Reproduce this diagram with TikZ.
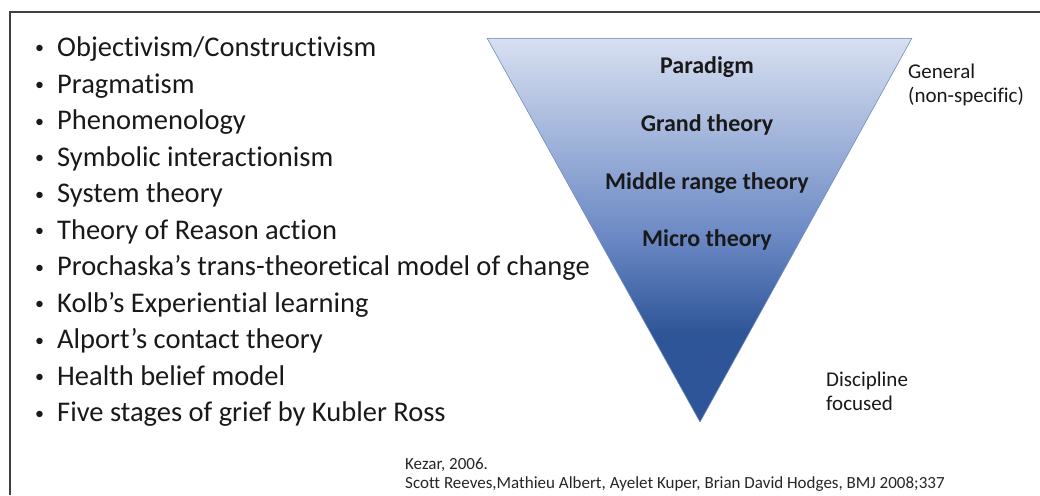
\documentclass[tikz,border=0pt]{standalone}
\usepackage{fontspec}
\setmainfont{Carlito}[Ligatures=NoCommon]
\definecolor{frame}{HTML}{404040}
\definecolor{topblue}{HTML}{D8E0F1}
\definecolor{midblue}{HTML}{6A88C4}
\definecolor{bottomblue}{HTML}{2E5597}
\definecolor{edgeblue}{HTML}{8FA6CF}
\pgfdeclareverticalshading{funnel}{100bp}{%
  color(0bp)=(bottomblue); color(36.5bp)=(bottomblue);
  color(49bp)=(midblue); color(75bp)=(topblue); color(100bp)=(topblue)}
\begin{document}
\begin{tikzpicture}[x=1pt,y=-1pt,
  item/.style={anchor=base west,inner sep=0pt,font=\fontsize{28.5}{32}\selectfont,text=black!90},
  level/.style={inner sep=0pt,font=\bfseries\fontsize{24}{28}\selectfont,text=black!90},
  side/.style={anchor=base west,inner sep=0pt,align=left,font=\fontsize{21}{24}\selectfont,text=black!90},
  cite/.style={anchor=base west,inner sep=0pt,font=\fontsize{17}{19}\selectfont,text=black!85}]
\useasboundingbox (0,0) rectangle (1040,495);
% frame along top and left
\draw[frame,line width=2pt] (1040,12) -- (10,12) -- (10,495);
% inverted triangle with vertical gradient
\coordinate (tl) at (487,38);
\coordinate (tr) at (912,38);
\coordinate (apex) at (700,422);
\path[shading=funnel] (tl) -- (tr) -- (apex) -- cycle;
\draw[edgeblue,line width=0.8pt] (tl) -- (tr);
\draw[edgeblue!70!bottomblue,line width=0.6pt] (tr) -- (apex) -- (tl);
% levels
\node[level] (paradigm) at (707,67) {Paradigm};
\node[level] (grand) at (707,125) {Grand theory};
\node[level] (middle) at (707,183) {Middle range theory};
\node[level] (micro) at (707,240) {Micro theory};
% side notes
\node[side] (general) at (908,102) {General\\(non-specific)};
\node[side] (discipline) at (826,410) {Discipline\\focused};
% list of theories
\foreach \t [count=\i] in {Objectivism/Constructivism, Pragmatism, Phenomenology,
  Symbolic interactionism, System theory, Theory of Reason action,
  Prochaska’s trans-theoretical model of change, Kolb’s Experiential learning,
  Alport’s contact theory, Health belief model, Five stages of grief by Kubler Ross}
  \node[item] (item\i) at (57,{56.5+36.5*(\i-1)})
    {\llap{\raisebox{2.5pt}{\fontsize{18}{18}\selectfont •}\hspace{13pt}}\t};
% references
\node[cite] (kezar) at (405,469) {Kezar, 2006.};
\node[cite] (reeves) at (405,488) {Scott Reeves,Mathieu Albert, Ayelet Kuper, Brian David Hodges, BMJ 2008;337};
\end{tikzpicture}
\end{document}
